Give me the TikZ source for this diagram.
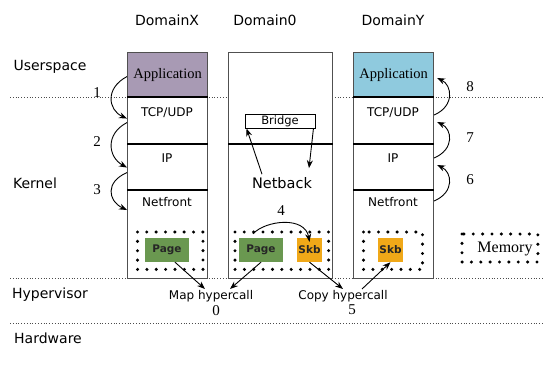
\documentclass[tikz,border=0pt]{standalone}
\usepackage{fontspec}
\setmainfont{Liberation Serif}
\setsansfont{DejaVu Sans}
\usetikzlibrary{arrows.meta}
\definecolor{appx}{RGB}{168,154,180}
\definecolor{appy}{RGB}{143,202,222}
\definecolor{pagegreen}{RGB}{106,152,80}
\definecolor{skborange}{RGB}{240,168,24}
\definecolor{boxline}{RGB}{80,80,80}
\begin{document}
\begin{tikzpicture}[x=1pt,y=-1pt,
  lbl/.style={font=\sffamily\fontsize{14}{16}\selectfont, inner sep=0},
  intext/.style={font=\sffamily\fontsize{12}{14}\selectfont, inner sep=0},
  serifnum/.style={font=\fontsize{15}{17}\selectfont, inner sep=0},
  layer/.style={draw=boxline, line width=1.1pt, fill=white, inner sep=0, anchor=north west},
  sep/.style={draw=black, line width=1.3pt},
  mem/.style={draw=black, line width=3.4pt, dash pattern=on 0pt off #1, line cap=round},
  chunk/.style={inner sep=0, font=\sffamily\bfseries\fontsize{10.5}{12}\selectfont, text=black!85, minimum height=24pt},
  arr/.style={-{Stealth[length=8pt,width=6pt]}, line width=0.9pt, black},
  level/.style={dotted, line width=0.8pt, black!70},
]
\useasboundingbox (0,0) rectangle (543,368);

% level lines
\draw[level] (10,97) -- (543,97);
\draw[level] (10,278.5) -- (543,278.5);
\draw[level] (10,323) -- (543,323);

% side labels
\node[lbl] (uspace) at (50,67) {Userspace};
\node[lbl] (kernel) at (35,183) {Kernel};
\node[lbl] (hyper) at (50,295) {Hypervisor};
\node[lbl] (hw) at (48,338) {Hardware};

% domain titles
\node[lbl] (tx) at (167,20) {DomainX};
\node[lbl] (t0) at (265,20) {Domain0};
\node[lbl] (ty) at (393,20) {DomainY};

% DomainX
\node[layer, minimum width=80pt, minimum height=88pt] (xnet) at (127,190) {};
\node[layer, minimum width=80pt, minimum height=46pt] (xip) at (127,144) {};
\node[layer, minimum width=80pt, minimum height=47pt] (xtcp) at (127,97) {};
\node[layer, fill=appx, minimum width=80pt, minimum height=45pt, font=\fontsize{14.5}{17}\selectfont] (xapp) at (127,52) {Application};
\draw[sep] (xtcp.north west) -- (xtcp.north east);
\draw[sep] (xip.north west) -- (xip.north east);
\draw[sep] (xnet.north west) -- (xnet.north east);
\node[intext] (xtcpt) at (167,113) {TCP/UDP};
\node[intext] (xipt) at (167,158) {IP};
\node[intext] (xnett) at (167,202) {Netfront};

% Domain0
\node[layer, minimum width=104pt, minimum height=134pt] (d0net) at (228,144) {};
\node[layer, minimum width=104pt, minimum height=92pt] (d0top) at (228,52) {};
\draw[sep] (d0net.north west) -- (d0net.north east);
\node[draw=black, line width=0.9pt, fill=white, minimum width=70pt, minimum height=14pt, inner sep=0, font=\sffamily\fontsize{11.5}{13}\selectfont] (bridge) at (280,121) {Bridge};
\node[font=\sffamily\fontsize{14.5}{17}\selectfont, inner sep=0] (netback) at (282,183) {Netback};

% DomainY
\node[layer, minimum width=80pt, minimum height=88pt] (ynet) at (353,190) {};
\node[layer, minimum width=80pt, minimum height=46pt] (yip) at (353,144) {};
\node[layer, minimum width=80pt, minimum height=47pt] (ytcp) at (353,97) {};
\node[layer, fill=appy, minimum width=80pt, minimum height=45pt, font=\fontsize{14.5}{17}\selectfont] (yapp) at (353,52) {Application};
\draw[sep] (ytcp.north west) -- (ytcp.north east);
\draw[sep] (yip.north west) -- (yip.north east);
\draw[sep] (ynet.north west) -- (ynet.north east);
\node[intext] (ytcpt) at (393,113) {TCP/UDP};
\node[intext] (yipt) at (393,158) {IP};
\node[intext] (ynett) at (393,202) {Netfront};

% memory regions
\draw[mem=9.36pt] (137.5,232) rectangle (203,269.4);
\draw[mem=9.36pt] (235,232) rectangle (328.6,269.4);
\draw[mem=9.36pt] (363.5,232) rectangle (422.5,269.4);
\draw[mem=9.36pt] (462,234) rectangle (537.9,262);
\node[font=\fontsize{16}{18}\selectfont, inner sep=1pt, fill=white] (memt) at (505,249) {Memory};

% chunks
\node[chunk, fill=pagegreen, minimum width=44pt] (xpage) at (167,250) {Page};
\node[chunk, fill=pagegreen, minimum width=44pt] (d0page) at (261,250) {Page};
\node[chunk, fill=skborange, minimum width=25pt] (d0skb) at (309.5,250) {Skb};
\node[chunk, fill=skborange, minimum width=25pt] (yskb) at (390.5,250) {Skb};

% hypercalls
\node[intext] (mapt) at (211,296) {Map hypercall};
\node[serifnum] (n0) at (216,311) {0};
\node[intext] (copyt) at (343,296) {Copy hypercall};
\node[serifnum] (n5) at (352,310) {5};

% step numbers
\node[serifnum] (n1) at (97,93) {1};
\node[serifnum] (n2) at (97,142) {2};
\node[serifnum] (n3) at (97,190) {3};
\node[serifnum] (n4) at (281,211) {4};
\node[serifnum] (n6) at (470,180) {6};
\node[serifnum] (n7) at (470,138) {7};
\node[serifnum] (n8) at (470,87) {8};

% left curved arrows
\draw[arr] ([yshift=-1.5pt]xapp.west) .. controls (105,88) and (108,110) .. ([yshift=2.5pt]xtcp.west);
\draw[arr] ([yshift=-1.5pt]xtcp.west) .. controls (105,134) and (108,157) .. (xip.west);
\draw[arr] ([yshift=-5pt]xip.west) .. controls (105,182) and (108,201) .. ([yshift=-20pt]xnet.north west);

% right curved arrows
\draw[arr] ([yshift=-11pt]ynet.north east) .. controls (455,192) and (452,172) .. ([xshift=3pt,yshift=-21pt]yip.north east);
\draw[arr] ([yshift=-14pt]yip.north east) .. controls (455,149) and (452,129) .. ([xshift=3pt,yshift=-25pt]ytcp.north east);
\draw[arr] ([yshift=-18pt]ytcp.north east) .. controls (455,106) and (452,85) .. ([xshift=3pt,yshift=-26pt]yapp.north east);

% bridge arrows
\draw[arr] ([xshift=-20pt,yshift=3pt]netback.north) -- ([xshift=2pt]bridge.south west);
\draw[arr] ([xshift=-2pt]bridge.south east) -- ([xshift=27pt,yshift=9pt]netback.north);

% arrow 4
\draw[arr] ([xshift=-8pt,yshift=4pt]d0page.north) .. controls (266,220) and (305,216) .. ([yshift=-4pt]d0skb.north);

% hypercall arrows
\draw[arr] ([xshift=8pt]xpage.south) -- ([xshift=-6pt,yshift=1pt]mapt.north);
\draw[arr] (d0page.south) -- ([xshift=19pt,yshift=1pt]mapt.north);
\draw[arr] (d0skb.south) -- ([xshift=0pt,yshift=1pt]copyt.north);
\draw[arr] ([xshift=19pt,yshift=1pt]copyt.north) -- (yskb.south);
\end{tikzpicture}
\end{document}
